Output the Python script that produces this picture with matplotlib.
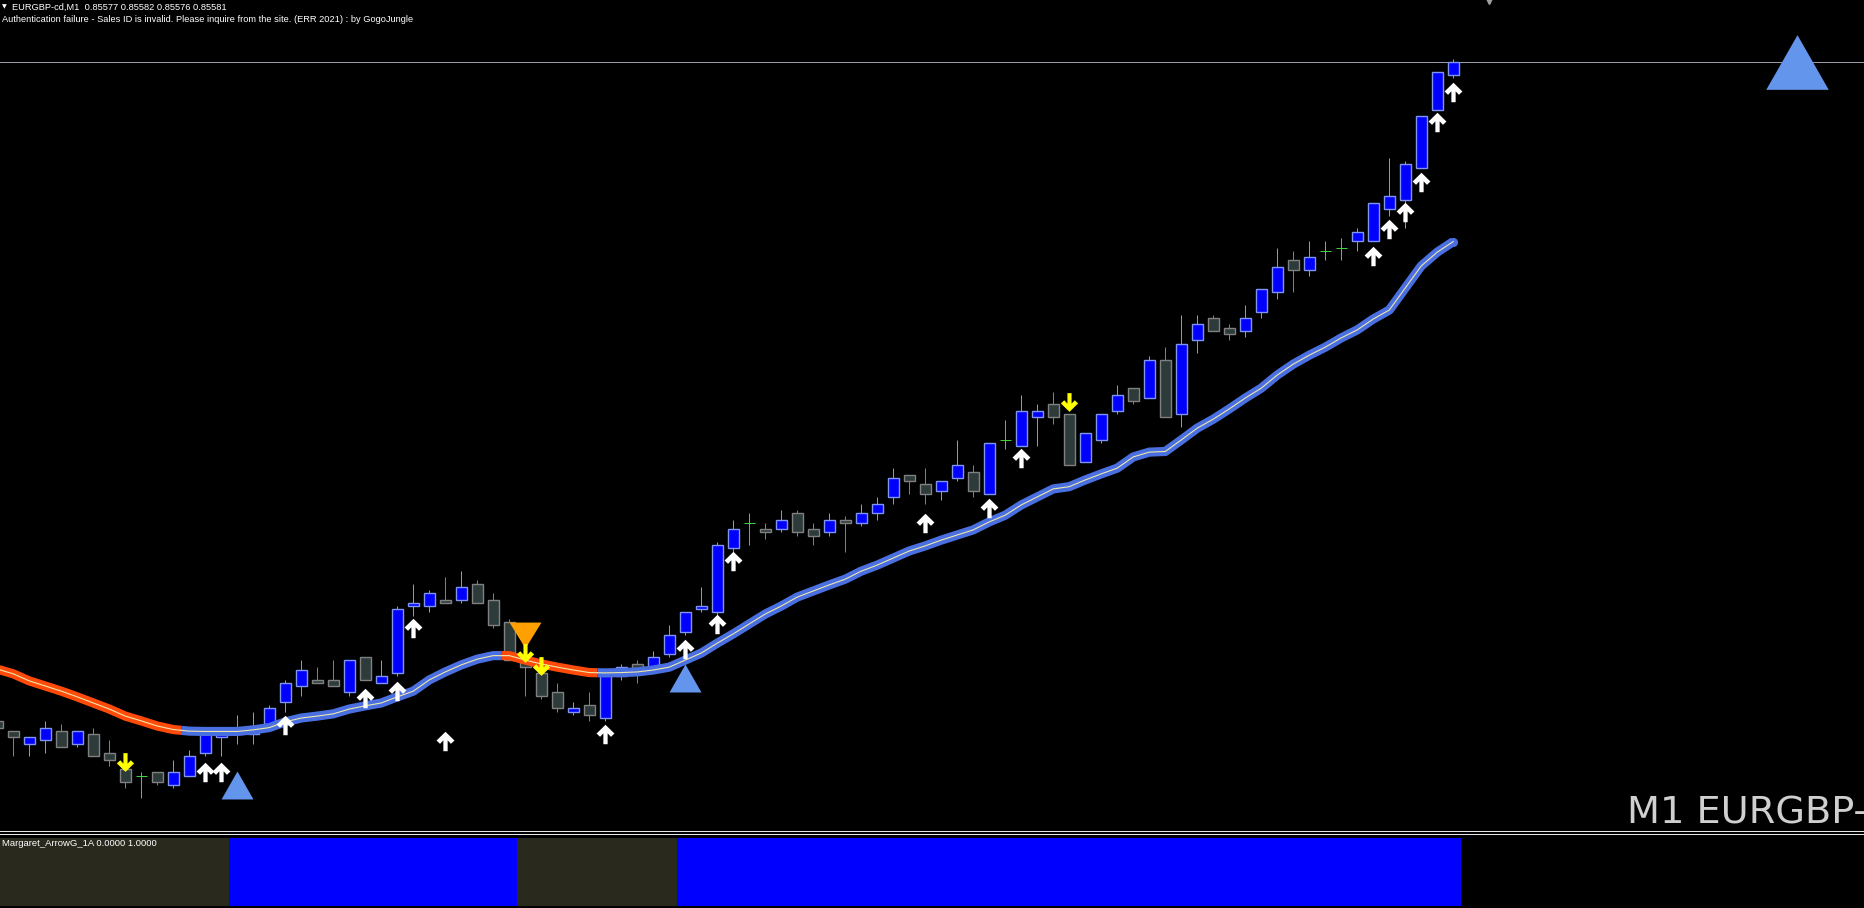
import matplotlib
matplotlib.use("Agg")
import matplotlib.pyplot as plt
import numpy as np
from matplotlib.path import Path

SYMBOL = "EURGBP-cd"
TIMEFRAME = "M1"
INDICATOR = "Margaret_ArrowG_1A"
IND_VALUES = (0.0, 1.0)
AUTH_MSG = ("Authentication failure - Sales ID is invalid. Please inquire from the site. "
            "(ERR 2021) : by GogoJungle")

# bar -1 is the half hidden bar at the left edge, bar 90 is the live one
bars = np.arange(-1, 91)

opens = [0.85375, 0.85372, 0.85368, 0.85369, 0.85372, 0.85368, 0.85371, 0.85365, 0.85360, 0.85358,
         0.85359, 0.85355, 0.85358, 0.85365, 0.85370, 0.85371, 0.85371, 0.85374, 0.85381, 0.85386,
         0.85388, 0.85388, 0.85384, 0.85395, 0.85387, 0.85390, 0.85411, 0.85411, 0.85413, 0.85413,
         0.85418, 0.85413, 0.85406, 0.85394, 0.85390, 0.85384, 0.85378, 0.85380, 0.85376, 0.85389,
         0.85393, 0.85391, 0.85396, 0.85403, 0.85410, 0.85409, 0.85429, 0.85437, 0.85435, 0.85435,
         0.85440, 0.85435, 0.85434, 0.85438, 0.85437, 0.85440, 0.85445, 0.85452, 0.85449, 0.85447,
         0.85451, 0.85453, 0.85446, 0.85463, 0.85461, 0.85470, 0.85474, 0.85471, 0.85456, 0.85463,
         0.85472, 0.85479, 0.85476, 0.85488, 0.85471, 0.85494, 0.85501, 0.85498, 0.85497, 0.85503,
         0.85509, 0.85519, 0.85516, 0.85522, 0.85523, 0.85525, 0.85525, 0.85535, 0.85538, 0.85548,
         0.85566, 0.85577]
highs = [0.85376, 0.85372, 0.85370, 0.85375, 0.85374, 0.85372, 0.85373, 0.85369, 0.85361, 0.85359,
         0.85359, 0.85363, 0.85366, 0.85372, 0.85372, 0.85377, 0.85378, 0.85380, 0.85388, 0.85394,
         0.85392, 0.85394, 0.85394, 0.85395, 0.85394, 0.85411, 0.85418, 0.85416, 0.85420, 0.85422,
         0.85419, 0.85415, 0.85407, 0.85395, 0.85391, 0.85387, 0.85381, 0.85384, 0.85391, 0.85393,
         0.85394, 0.85397, 0.85405, 0.85409, 0.85417, 0.85431, 0.85438, 0.85440, 0.85437, 0.85441,
         0.85441, 0.85437, 0.85440, 0.85439, 0.85443, 0.85445, 0.85454, 0.85452, 0.85454, 0.85450,
         0.85463, 0.85455, 0.85462, 0.85469, 0.85477, 0.85474, 0.85478, 0.85471, 0.85465, 0.85471,
         0.85480, 0.85479, 0.85489, 0.85492, 0.85502, 0.85502, 0.85502, 0.85499, 0.85505, 0.85510,
         0.85523, 0.85522, 0.85525, 0.85525, 0.85526, 0.85529, 0.85537, 0.85551, 0.85550, 0.85564,
         0.85578, 0.85582]
lows = [0.85372, 0.85364, 0.85364, 0.85365, 0.85367, 0.85367, 0.85364, 0.85361, 0.85354, 0.85351,
        0.85355, 0.85354, 0.85358, 0.85364, 0.85364, 0.85368, 0.85368, 0.85373, 0.85378, 0.85383,
        0.85387, 0.85386, 0.85383, 0.85388, 0.85387, 0.85389, 0.85408, 0.85409, 0.85412, 0.85412,
        0.85412, 0.85404, 0.85394, 0.85383, 0.85382, 0.85378, 0.85377, 0.85375, 0.85375, 0.85388,
        0.85387, 0.85391, 0.85395, 0.85402, 0.85409, 0.85408, 0.85428, 0.85430, 0.85432, 0.85434,
        0.85433, 0.85430, 0.85433, 0.85428, 0.85436, 0.85438, 0.85443, 0.85446, 0.85443, 0.85444,
        0.85450, 0.85445, 0.85446, 0.85460, 0.85461, 0.85461, 0.85468, 0.85455, 0.85456, 0.85462,
        0.85471, 0.85474, 0.85476, 0.85470, 0.85467, 0.85490, 0.85497, 0.85494, 0.85495, 0.85501,
        0.85507, 0.85509, 0.85514, 0.85519, 0.85519, 0.85522, 0.85525, 0.85533, 0.85529, 0.85548,
        0.85566, 0.85576]
closes = [0.85373, 0.85370, 0.85370, 0.85373, 0.85367, 0.85372, 0.85364, 0.85363, 0.85356, 0.85358,
          0.85356, 0.85359, 0.85364, 0.85371, 0.85371, 0.85372, 0.85372, 0.85379, 0.85387, 0.85391,
          0.85387, 0.85386, 0.85394, 0.85388, 0.85389, 0.85410, 0.85412, 0.85415, 0.85412, 0.85417,
          0.85412, 0.85405, 0.85394, 0.85392, 0.85383, 0.85379, 0.85379, 0.85377, 0.85390, 0.85392,
          0.85391, 0.85395, 0.85402, 0.85409, 0.85411, 0.85430, 0.85435, 0.85437, 0.85434, 0.85438,
          0.85434, 0.85433, 0.85438, 0.85437, 0.85440, 0.85443, 0.85451, 0.85450, 0.85446, 0.85450,
          0.85455, 0.85447, 0.85462, 0.85463, 0.85472, 0.85472, 0.85470, 0.85455, 0.85465, 0.85471,
          0.85477, 0.85475, 0.85488, 0.85470, 0.85493, 0.85499, 0.85497, 0.85496, 0.85501, 0.85510,
          0.85517, 0.85516, 0.85520, 0.85522, 0.85523, 0.85528, 0.85537, 0.85539, 0.85549, 0.85564,
          0.85578, 0.85581]

# trend moving average (one value per bar)
ma = [0.853913, 0.853898, 0.853876, 0.853860, 0.853844, 0.853826, 0.853807, 0.853788, 0.853766, 0.853751,
      0.853735, 0.853724, 0.853719, 0.853718, 0.853718, 0.853718, 0.853723, 0.853730, 0.853748, 0.853760,
      0.853766, 0.853773, 0.853788, 0.853798, 0.853807, 0.853826, 0.853844, 0.853879, 0.853904, 0.853926,
      0.853944, 0.853955, 0.853955, 0.853941, 0.853929, 0.853919, 0.853910, 0.853902, 0.853901, 0.853902,
      0.853904, 0.853910, 0.853919, 0.853941, 0.853963, 0.853994, 0.854023, 0.854054, 0.854085, 0.854110,
      0.854138, 0.854157, 0.854176, 0.854194, 0.854219, 0.854238, 0.854260, 0.854282, 0.854298, 0.854316,
      0.854332, 0.854348, 0.854373, 0.854394, 0.854426, 0.854451, 0.854476, 0.854483, 0.854504, 0.854523,
      0.854541, 0.854576, 0.854591, 0.854593, 0.854629, 0.854666, 0.854694, 0.854726, 0.854760, 0.854791,
      0.854832, 0.854866, 0.854894, 0.854919, 0.854948, 0.854973, 0.855007, 0.855035, 0.855104, 0.855173,
      0.855216, 0.855249]
ma_runs = [(-1, 10, "down"), (11, 30, "up"), (31, 36, "down"), (37, 90, "up")]

buy_arrow_bars = [12, 13, 17, 22, 24, 25, 27, 37, 42, 44, 45, 57, 61, 63, 85, 86, 87, 88, 89, 90]
buy_arrow_prices = [0.853591, 0.853591, 0.853738, 0.853822, 0.853844, 0.854041, 0.853688, 0.853710,
                    0.853976, 0.854054, 0.854251, 0.854369, 0.854416, 0.854573, 0.855204, 0.855288,
                    0.855341, 0.855435, 0.855623, 0.855716]
sell_arrow_bars = [7, 32, 33, 66]
sell_arrow_prices = [0.853623, 0.853963, 0.853923, 0.854748]

up_signal_bars = [14, 42]
up_signal_prices = [0.853552, 0.853885]
down_signal_bars = [32]
down_signal_prices = [0.854018]

# sub window state: 1 = buy (blue), 0 = sell (dark)
sub_runs = [(-1, 13, 0), (14, 31, 1), (32, 41, 0), (42, 90, 1)]

W, H = 1864, 908
fig = plt.figure(figsize=(W / 100, H / 100), dpi=100, facecolor="black")

ax = fig.add_axes([0, 78 / H, 1, 830 / H])
ax.set_facecolor("black")
ax.set_xlim(-0.83, 115.67)
ax.set_ylim(0.85341, 0.856004)
ax.axis("off")

px = 0.72  # one pixel in points

# candles
bull_fill, bull_edge = "#0000ff", "#7f95f0"
bear_fill, bear_edge = "#2d3b3b", "#808080"
doji_col = "#3cd23c"
bw = 0.68
for x, o, h, l, c in zip(bars, opens, highs, lows, closes):
    if o == c:
        ax.vlines(x, l, h, color=doji_col, lw=px, zorder=2)
        ax.hlines(c, x - bw / 2, x + bw / 2, color=doji_col, lw=px, zorder=2)
        continue
    up = c > o
    fill = bull_fill if up else bear_fill
    edge = bull_edge if up else bear_edge
    ax.vlines(x, l, h, color=edge, lw=px, zorder=2)
    ax.bar(x, abs(c - o), bottom=min(o, c), width=bw, color=fill,
           edgecolor=edge, linewidth=1.0, zorder=2.5)

# moving average, coloured by trend
ma_arr = np.array(ma)
ma_cols = {"up": "#4a6fe0", "down": "#ff4a0a"}
ma_lw = 6.6
for start, end, trend in ma_runs:
    i0, i1 = start + 1, end + 1
    xs = list(bars[i0:i1 + 1])
    ys = list(ma_arr[i0:i1 + 1])
    if i0 > 0:
        xs.insert(0, start - 0.5)
        ys.insert(0, (ma_arr[i0 - 1] + ma_arr[i0]) / 2)
    if i1 < len(bars) - 1:
        xs.append(end + 0.5)
        ys.append((ma_arr[i1] + ma_arr[i1 + 1]) / 2)
    ax.plot(xs, ys, color=ma_cols[trend], lw=ma_lw, solid_capstyle="butt", zorder=3)
    ax.plot(xs, ys, color="#eee8aa", lw=0.8, zorder=3.1)
ax.plot(bars[-1], ma[-1], "o", ms=ma_lw, color=ma_cols["up"], mew=0, zorder=3)

# arrow shapes
arrow_up = Path([(0, 1), (0.92, 0.1), (0.56, -0.24), (0.22, 0.12), (0.22, -1), (-0.22, -1),
                 (-0.22, 0.12), (-0.56, -0.24), (-0.92, 0.1), (0, 1)], closed=True)
arrow_dn = Path([(x, -y) for x, y in arrow_up.vertices], closed=True)
tri_up = Path([(0, 0.875), (1, -0.875), (-1, -0.875), (0, 0.875)], closed=True)
tri_dn = Path([(0, -0.81), (1, 0.81), (-1, 0.81), (0, -0.81)], closed=True)

ax.plot(up_signal_bars, up_signal_prices, ls="none", marker=tri_up, ms=23,
        mfc="#6495ed", mec="none", zorder=4)
ax.plot(down_signal_bars, down_signal_prices, ls="none", marker=tri_dn, ms=23,
        mfc="#ffa000", mec="none", zorder=4)
ax.plot(buy_arrow_bars, buy_arrow_prices, ls="none", marker=arrow_up, ms=14,
        mfc="white", mec="none", zorder=5)
ax.plot(sell_arrow_bars, sell_arrow_prices, ls="none", marker=arrow_dn, ms=13.5,
        mfc="#ffff00", mec="none", zorder=5)

# bid line and the big trend triangle on the right
bid = closes[-1]
ax.axhline(bid, color="#9a9aa6", lw=px, zorder=1)
ax.plot(111.5, bid, ls="none", marker=tri_up, ms=45, mfc="#6495ed", mec="none", zorder=4)

# sub window histogram
ax2 = fig.add_axes([0, 2 / H, 1, 68.3 / H])
ax2.set_facecolor("black")
ax2.set_xlim(-0.83, 115.67)
ax2.set_ylim(0, 1)
ax2.axis("off")
for start, end, state in sub_runs:
    xs = np.arange(start, end + 1)
    ax2.bar(xs, 1.0, width=1.0, color="#0000ff" if state else "#29291e",
            linewidth=0, antialiased=False)

# separator between windows
for yy in (830.5, 833.5):
    fig.add_artist(plt.Line2D([0, 1], [1 - yy / H, 1 - yy / H], color="#e6e6e6", lw=px))

# texts
fs = ["Liberation Sans", "DejaVu Sans"]
fig.text(2 / W, 1 - 6.5 / H, "\u25bc", color="white", fontsize=4.5, va="center",
         family="DejaVu Sans")
fig.text(12.5 / W, 1 - 7 / H,
         f"{SYMBOL},{TIMEFRAME}  {opens[-1]:.5f} {highs[-1]:.5f} {lows[-1]:.5f} {closes[-1]:.5f}",
         color="white", fontsize=6.7, va="center", family=fs)
fig.text(2 / W, 1 - 19 / H, AUTH_MSG, color="white", fontsize=6.65, va="center", family=fs)
fig.text(2 / W, 1 - 843 / H, f"{INDICATOR} {IND_VALUES[0]:.4f} {IND_VALUES[1]:.4f}",
         color="white", fontsize=6.8, va="center", family=fs)
fig.text(1627 / W, 1 - 822.7 / H, f"{TIMEFRAME} {SYMBOL}", color="#cfcfcf",
         fontsize=27.5, va="baseline", family="DejaVu Sans")

# chart shift marker at the top
fig.add_artist(plt.Line2D([1489 / W], [1 - 0.5 / H], marker="v", ms=5, color="#a0a0a0",
                          ls="none"))

fig.savefig("out.png", dpi=100, facecolor="black")
